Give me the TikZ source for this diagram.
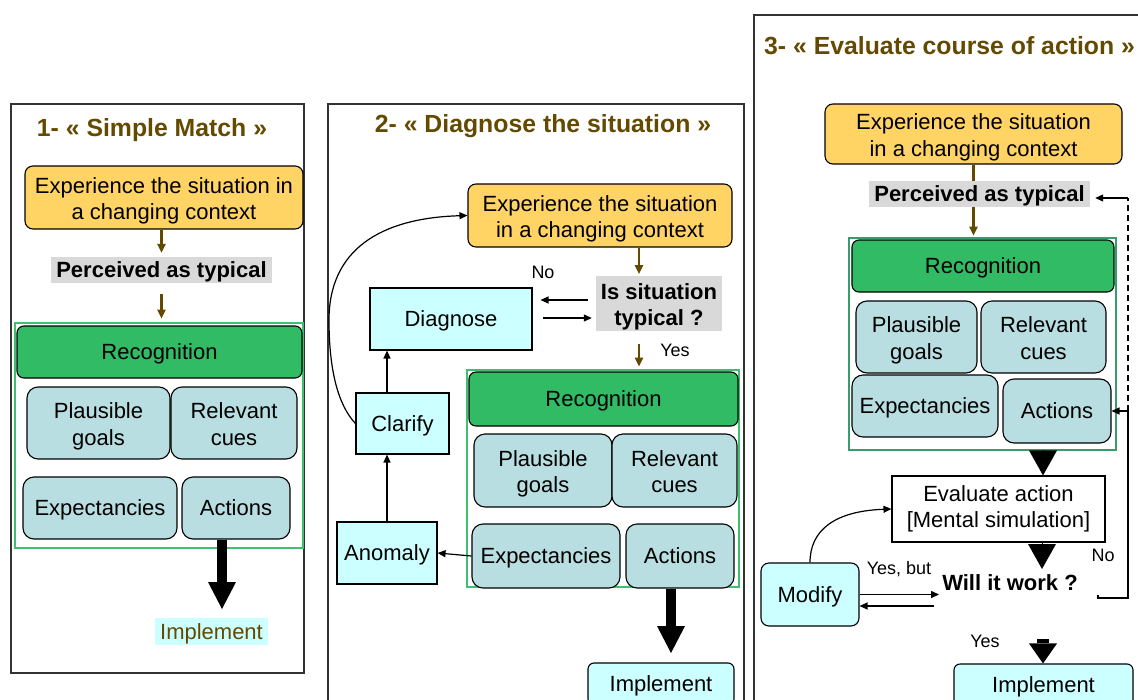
\documentclass[tikz,border=0pt]{standalone}
\usepackage{fontspec}
\setmainfont{Liberation Sans}
\usetikzlibrary{arrows.meta}

\definecolor{ochre}{RGB}{255,211,100}
\definecolor{typgray}{RGB}{217,217,217}
\definecolor{recgreen}{RGB}{48,187,100}
\definecolor{frameA}{RGB}{62,192,112}
\definecolor{frameB}{RGB}{58,156,106}
\definecolor{cellteal}{RGB}{184,222,225}
\definecolor{pale}{RGB}{204,255,255}
\definecolor{umber}{RGB}{99,74,0}

% struts for two-line labels: first line ascent, last line descent
\newcommand{\linetop}{\rule{0pt}{23pt}}
\newcommand{\linebot}{\rule[-4.7pt]{0pt}{0pt}}

\tikzset{
  % struts give every one-line text the same ascent/descent, so it sits centred
  txt/.style={font=\fontsize{22}{26.5}\selectfont, align=center, inner sep=0pt, text=black,
    execute at begin node={\rule{0pt}{19.8pt}},
    execute at end node={\rule[-4.7pt]{0pt}{0pt}}},
  boldtxt/.style={txt, font=\fontsize{22}{26.5}\selectfont\bfseries},
  lab/.style={font=\fontsize{18}{21}\selectfont, inner sep=0pt},
  title/.style={font=\fontsize{24.8}{29}\selectfont\bfseries, text=umber, inner sep=0pt},
  situation/.style={txt, draw, fill=ochre, rounded corners=8pt, line width=1.1pt},
  typical/.style={boldtxt, fill=typgray},
  header/.style={txt, draw, fill=recgreen, rounded corners=7pt, line width=1.1pt},
  cell/.style={txt, draw, fill=cellteal, rounded corners=11pt, line width=1.1pt},
  plainbox/.style={txt, draw, fill=pale, line width=1.1pt},
  softbox/.style={plainbox, rounded corners=7pt},
  outlineA/.style={draw=frameA, line width=2.6pt, inner sep=0pt},
  outlineB/.style={draw=frameB, line width=2.8pt, inner sep=0pt},
  panel/.style={draw=black!80, line width=1.3pt},
  brownarrow/.style={draw=umber, line width=2.2pt, -{Triangle[length=9pt,width=8pt]}},
  arr/.style={draw=black, line width=1.2pt, -{Triangle[length=8pt,width=7pt]}},
  fatarrow/.style={draw=black, line width=10pt, -{Triangle[length=27pt,width=28pt,line width=0pt]}},
  tri/.style={draw=black, line width=1pt, -{Triangle[length=25pt,width=28pt,line width=0pt]}},
  yesarrow/.style={draw=black, line width=12pt, -{Triangle[length=20pt,width=28pt,line width=0pt]}},
}

\begin{document}
\begin{tikzpicture}[x=1pt, y=-1pt]
\useasboundingbox (0,0) rectangle (1138,699);

% ---------------- Panel 1: simple match ----------------
\draw[panel] (11,104) rectangle (304,673);
\node[title] (t1) at (152,130.5) {1- « Simple Match »};
\node[situation, minimum width=278pt, minimum height=63pt] (exp1) at (164,197.5)
  {\linetop Experience the situation in\\a changing context\linebot};
\node[typical, minimum width=221pt, minimum height=26pt] (per1) at (161.5,270) {Perceived as typical};
\node[outlineA, minimum width=288pt, minimum height=225pt] (rec1) at (159,435.5) {};
\node[header, minimum width=285pt, minimum height=52pt] (hd1) at (159.5,352) {Recognition};
\node[cell, minimum width=143pt, minimum height=72pt] (pg1) at (98.5,423) {\linetop Plausible\\goals\linebot};
\node[cell, minimum width=126pt, minimum height=72pt] (rc1) at (234,423) {\linetop Relevant\\cues\linebot};
\node[cell, minimum width=154pt, minimum height=62pt] (ex1) at (100,508) {Expectancies};
\node[cell, minimum width=108pt, minimum height=62pt] (ac1) at (236,508) {Actions};
\coordinate (tip1) at (222,609);
\node[txt, fill=pale, text=umber, minimum width=113pt, minimum height=27pt] (imp1) at (211.5,631.5) {Implement};

\draw[brownarrow, shorten >=4pt] (exp1.south -| per1.north) -- (per1.north);
\draw[brownarrow, shorten <=11pt, shorten >=3pt] (per1.south) -- (rec1.north -| per1.south);
\draw[fatarrow] (ac1.south -| tip1) -- (tip1);

% ---------------- Panel 2: diagnose the situation ----------------
\draw[panel] (328,104) rectangle (744,720);
\node[title] (t2) at (543,126) {2- « Diagnose the situation »};
\node[situation, minimum width=264pt, minimum height=63pt] (exp2) at (600,215.5)
  {\linetop Experience the situation\\in a changing context\linebot};
\node[typical, minimum width=126pt, minimum height=53pt] (typ2) at (659,303.5) {\linetop Is situation\\typical ?\linebot};
\node[plainbox, minimum width=162pt, minimum height=62pt] (diag2) at (451,319) {Diagnose};
\node[lab] (no2) at (543,272) {No};
\node[lab] (yes2) at (675,350) {Yes};
\node[outlineA, minimum width=272pt, minimum height=217pt] (rec2) at (603,478.5) {};
\node[header, minimum width=269pt, minimum height=54pt] (hd2) at (603.5,399) {Recognition};
\node[cell, minimum width=138pt, minimum height=73pt] (pg2) at (543,470.5) {\linetop Plausible\\goals\linebot};
\node[cell, minimum width=125pt, minimum height=73pt] (rc2) at (674.5,470.5) {\linetop Relevant\\cues\linebot};
\node[cell, minimum width=148pt, minimum height=64pt] (ex2) at (546,556) {Expectancies};
\node[cell, minimum width=108pt, minimum height=64pt] (ac2) at (680,556) {Actions};
\node[plainbox, minimum width=100pt, minimum height=62pt] (anom2) at (387,553) {Anomaly};
\node[plainbox, minimum width=93pt, minimum height=61pt] (clar2) at (402.5,423.5) {Clarify};
\node[softbox, rounded corners=6pt, minimum width=146pt, minimum height=42pt] (imp2) at (661,684) {Implement};
\coordinate (tip2) at (671,653);
\coordinate (bx2) at (639,0);

\draw[brownarrow, shorten >=2pt] (exp2.south -| bx2) -- (typ2.north -| bx2);
\draw[brownarrow, shorten <=13pt, shorten >=2pt] (typ2.south -| bx2) -- (rec2.north -| bx2);
\coordinate (na) at ([xshift=-8pt,yshift=3.5pt]typ2.west);
\coordinate (nb) at ([xshift=10pt,yshift=1pt]diag2.east);
\draw[arr, shorten >=8pt] (na) -- (na -| diag2.east);
\draw[arr, shorten >=4pt] (nb) -- (nb -| typ2.west);
\draw[arr] (ex2.west) -- (anom2.east);
\draw[arr] (anom2.north) -- (anom2.north |- clar2.south);
\draw[arr] (clar2.north -| anom2.north) -- (diag2.south -| anom2.north);
\draw[arr] (clar2.west) .. controls (338,405) and (329,370) .. (329,320)
  .. controls (329,250) and (380,218) .. (exp2.west);
\draw[fatarrow] (ac2.south -| tip2) -- (tip2);

% ---------------- Panel 3: evaluate course of action ----------------
\draw[panel] (754,15) rectangle (1160,720);
\node[title, anchor=west] (t3) at (764,46) {3- « Evaluate course of action »};
\node[situation, minimum width=297pt, minimum height=60pt] (exp3) at (973.5,134)
  {\linetop Experience the situation\\in a changing context\linebot};
\node[typical, minimum width=221pt, minimum height=26pt] (per3) at (979.5,194) {Perceived as typical};
\node[outlineB, minimum width=267pt, minimum height=212pt] (rec3) at (982.5,344) {};
\node[header, minimum width=262pt, minimum height=52pt] (hd3) at (983,266) {Recognition};
\node[cell, minimum width=121pt, minimum height=72pt] (pg3) at (916.5,337) {\linetop Plausible\\goals\linebot};
\node[cell, minimum width=125pt, minimum height=72pt] (rc3) at (1043.5,337) {\linetop Relevant\\cues\linebot};
\node[cell, minimum width=146pt, minimum height=62pt] (ex3) at (925,406) {Expectancies};
\node[cell, minimum width=108pt, minimum height=64pt] (ac3) at (1057,411) {Actions};
\node[txt, draw, fill=white, line width=1.1pt, minimum width=213pt, minimum height=66pt] (eval3) at (998.5,509)
  {Evaluate action\\{[Mental simulation]}};
\node[boldtxt] (will3) at (1010,583) {Will it work ?};
\node[softbox, rounded corners=8pt, minimum width=98pt, minimum height=63pt] (modify3) at (810,594.5) {Modify};
\node[softbox, rounded corners=6pt, minimum width=179pt, minimum height=42pt] (imp3) at (1043.5,685) {Implement};
\node[lab] (no3) at (1103,555) {No};
\node[lab] (yb3) at (899,569) {Yes, but};
\node[lab] (yes3) at (985,641) {Yes};

\draw[umber, line width=2.2pt] (exp3.south) -- (exp3.south |- per3.north);
\draw[brownarrow, shorten >=1pt] (exp3.south |- per3.south) -- (exp3.south |- rec3.north);

\coordinate (c3) at (1043,0);
\coordinate (tip32) at (1042,569);
\draw[tri] (rec3.south -| c3) -- (eval3.north -| c3);
\draw[tri] (eval3.south -| tip32) -- (tip32);
\coordinate (ys) at (1043,639);
\draw[yesarrow] (ys) -- (imp3.north -| ys);

% return paths on the right
\coordinate (nofrom) at (1098,595);
\coordinate (rx) at (1128,598);
\coordinate (dashtop) at ([xshift=5pt,yshift=-4pt]per3.east);
\draw[arr] (nofrom) |- (rx) |- (ac3.east);
\draw[line width=1.2pt, dashed, dash pattern=on 6pt off 4pt] (rx |- ac3.east) -- (rx |- dashtop);
\draw[arr] (rx |- dashtop) -- (dashtop);

% modify loop
\coordinate (w1) at ([xshift=-3pt]will3.west);
\coordinate (w2) at ([xshift=-8pt]will3.west);
\coordinate (m2) at ([yshift=-11.5pt]modify3.east);
\draw[arr] (modify3.east) -- (modify3.east -| w1);
\draw[arr] (m2 -| w2) -- (m2);
\draw[arr] (modify3.north) .. controls (810,530) and (835,511) .. (eval3.west);
\end{tikzpicture}
\end{document}
